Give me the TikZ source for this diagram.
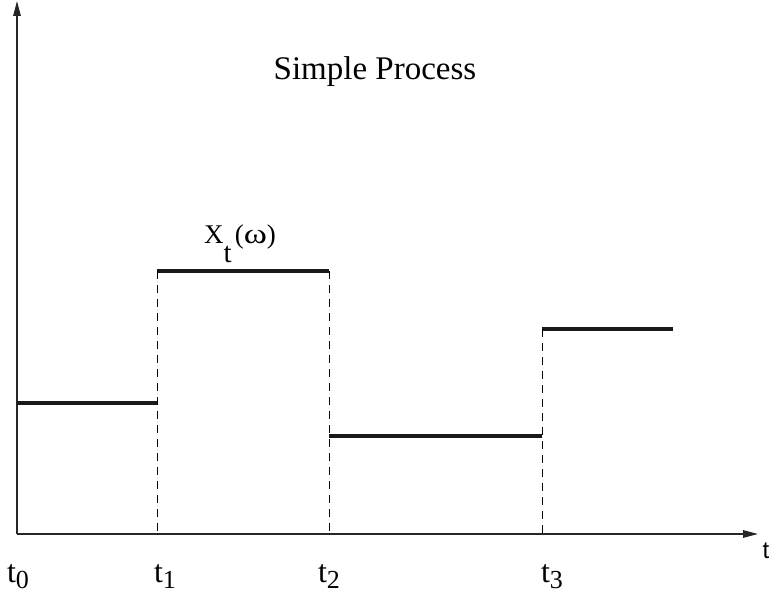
\documentclass[tikz,border=0pt]{standalone}
\usepackage{fontspec}
\setmainfont{Liberation Serif}
\newfontfamily\axsans{Liberation Sans}
\usetikzlibrary{arrows.meta}
\newcommand{\tlab}[2]{{\fontsize{32}{32}\selectfont t}\raisebox{-6pt}{\fontsize{26}{26}\selectfont #2}}
\tikzset{
  axis/.style={line width=1.4pt, draw=black!85, -{Triangle[length=15pt,width=7.5pt]}},
  level/.style={line width=3.6pt, draw=black!90},
  guide/.style={line width=0.9pt, dash pattern=on 8pt off 6pt},
  lab/.style={inner sep=0pt, anchor=base}
}
\begin{document}
\begin{tikzpicture}[x=1pt,y=-1pt]
\useasboundingbox (0,0) rectangle (770,596);
% axes
\coordinate (O) at (17,534);
\coordinate (ytop) at (17,1);
\coordinate (xend) at (758,534);
\draw[axis] (O) -- (ytop);
\draw[axis] (O) -- (xend);
% levels
\coordinate (a0) at (17,403);  \coordinate (a1) at (157,403);
\coordinate (b0) at (157,271); \coordinate (b1) at (329,271);
\coordinate (c0) at (329,436); \coordinate (c1) at (542,436);
\coordinate (d0) at (542,329); \coordinate (d1) at (673,329);
\draw[level] (a0) -- (a1);
\draw[level] (b0) -- (b1);
\draw[level] (c0) -- (c1);
\draw[level] (d0) -- (d1);
% guides
\coordinate (g1) at (157,534);
\coordinate (g2) at (329,534);
\coordinate (g3) at (542,534);
\draw[guide] (b0) -- (g1);
\draw[guide] (b1) -- (g2);
\draw[guide] (d0) -- (g3);
% labels
\node[lab] (l0) at (18,582) {\tlab{t}{0}};
\node[lab] (l1) at (165,582) {\tlab{t}{1}};
\node[lab] (l2) at (329,582) {\tlab{t}{2}};
\node[lab] (l3) at (552,582) {\tlab{t}{3}};
\node[lab] (lt) at (766,558) {\axsans\fontsize{24}{24}\selectfont t};
\node[lab] (title) at (375,80) {\fontsize{33}{33}\selectfont Simple Process};
\node[lab, anchor=base west] (xlab) at (204,243) {\fontsize{27}{27}\selectfont X\raisebox{-19pt}{\fontsize{29}{29}\selectfont t}\hspace{3pt}(\scalebox{1.3}[1.05]{ω})};
\end{tikzpicture}
\end{document}
